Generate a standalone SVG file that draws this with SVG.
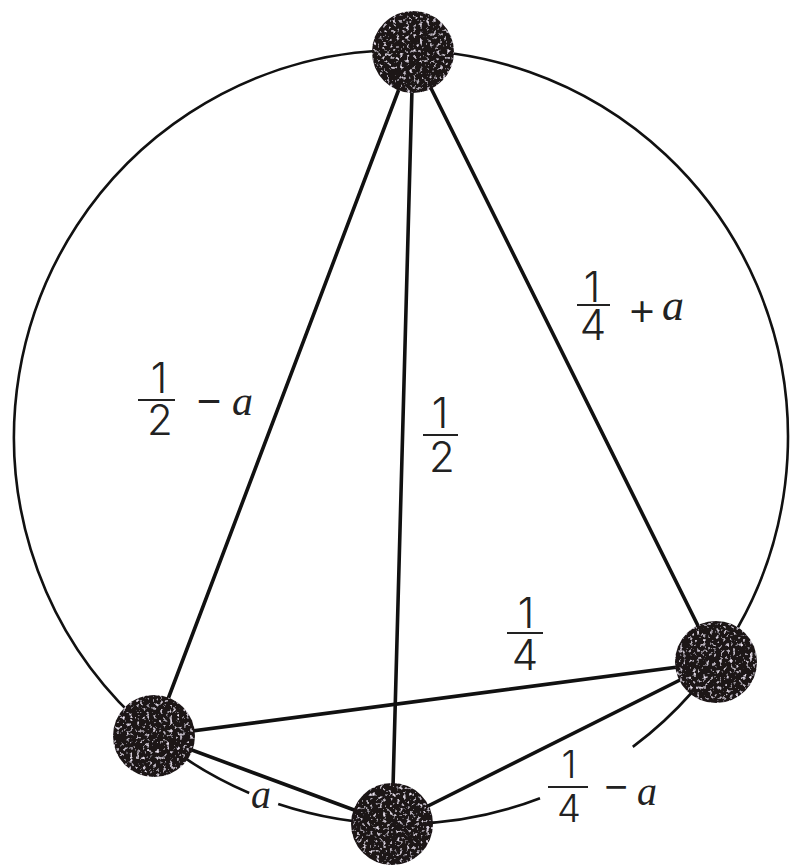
<svg xmlns="http://www.w3.org/2000/svg" width="790" height="868" viewBox="0 0 790 868">
<style>
.circ{fill:none;stroke:#111;stroke-width:2.6}
.edge{stroke:#111;stroke-width:3.6;stroke-linecap:round}
.bar{stroke:#222;stroke-width:2}
.num{font-family:Inter,"Liberation Sans","DejaVu Sans",sans-serif;font-weight:300;fill:#222;text-anchor:middle}
.var{font-family:"Liberation Serif","DejaVu Serif",serif;font-style:italic;fill:#222}
.op{font-family:Inter,"Liberation Sans","DejaVu Sans",sans-serif;font-weight:300;fill:#222;text-anchor:middle}
.ball{fill:#1c1519}
</style>
<defs>
<filter id="speckle" x="0" y="0" width="100%" height="100%">
<feTurbulence type="fractalNoise" baseFrequency="0.3" numOctaves="2" seed="4" result="n"/>
<feColorMatrix in="n" type="matrix" values="0 0 0 0 0.85  0 0 0 0 0.78  0 0 0 0 0.88  4 0 0 0 -2.3" result="spots"/>
<feComposite in="spots" in2="SourceGraphic" operator="atop"/>
</filter>
</defs>
<rect width="790" height="868" fill="#fff"/>
<g id="circle">
<path class="circ" d="M 249.2 793.0 A 387 387 0 1 1 632.8 746.9"/>
<path class="circ" d="M 278.2 804.0 A 387 387 0 0 0 540.0 798.2"/>
</g>
<g id="connectors">
<line class="edge" x1="413" y1="52" x2="154" y2="736"/>
<line class="edge" x1="413" y1="52" x2="392" y2="824"/>
<line class="edge" x1="413" y1="52" x2="716" y2="662"/>
<line class="edge" x1="154" y1="736" x2="716" y2="662"/>
<line class="edge" x1="154" y1="736" x2="392" y2="824"/>
<line class="edge" x1="392" y1="824" x2="716" y2="662"/>
</g>
<g id="node-top"><circle class="ball" cx="413" cy="52" r="41" filter="url(#speckle)"/></g>
<g id="node-right"><circle class="ball" cx="716" cy="662" r="41" filter="url(#speckle)"/></g>
<g id="node-left"><circle class="ball" cx="154" cy="736" r="41" filter="url(#speckle)"/></g>
<g id="node-bottom"><circle class="ball" cx="392" cy="824" r="41" filter="url(#speckle)"/></g>
<g id="labels">
<g id="label-quarter-plus-a">
<text class="num" font-size="42"><tspan x="592" y="302">1</tspan><tspan x="593" y="340">4</tspan></text>
<line class="bar" x1="577" y1="305" x2="610" y2="305"/>
<text class="op" x="642" y="325" font-size="46">+</text>
<text class="var" x="662" y="320" font-size="44">a</text>
</g>
<g id="label-half-minus-a">
<text class="num" font-size="42"><tspan x="159" y="393">1</tspan><tspan x="160" y="435">2</tspan></text>
<line class="bar" x1="138" y1="400" x2="175" y2="400"/>
<text class="op" x="209" y="415" font-size="46">−</text>
<text class="var" x="232" y="415" font-size="42">a</text>
</g>
<g id="label-half">
<text class="num" font-size="42"><tspan x="440" y="428">1</tspan><tspan x="442" y="472">2</tspan></text>
<line class="bar" x1="423" y1="435" x2="458" y2="435"/>
</g>
<g id="label-quarter">
<text class="num" font-size="42"><tspan x="526" y="628">1</tspan><tspan x="525" y="670">4</tspan></text>
<line class="bar" x1="507" y1="633" x2="543" y2="633"/>
</g>
<g id="label-a">
<text class="var" x="251" y="808" font-size="40">a</text>
</g>
<g id="label-quarter-minus-a">
<text class="num" font-size="38"><tspan x="569" y="778">1</tspan><tspan x="569" y="822">4</tspan></text>
<line class="bar" x1="548" y1="787" x2="588" y2="787"/>
<text class="op" x="616" y="800" font-size="44">−</text>
<text class="var" x="637" y="805" font-size="40">a</text>
</g>
</g>
</svg>
